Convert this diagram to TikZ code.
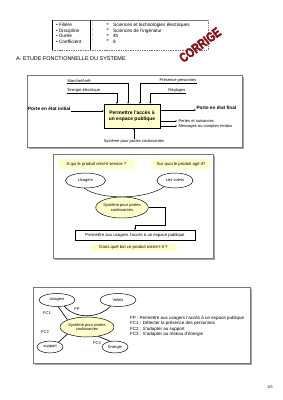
\documentclass[tikz,border=0pt]{standalone}
\usepackage{fontspec}
\setmainfont{Liberation Sans}
\newfontfamily\symbolfont{DejaVu Sans}
\newfontfamily\stampfont[FakeBold=3]{Liberation Sans}
\usetikzlibrary{shapes.geometric, calc}
\definecolor{paleyellow}{RGB}{255,255,204}
\definecolor{stampred}{RGB}{135,18,24}
\definecolor{framegray}{RGB}{120,120,120}
\tikzstyle{boite} = [rectangle, minimum width=41.6mm, minimum height=17.8mm, text centered, draw=black, line width=0.8pt, fill=paleyellow, font=\fontsize{10.5}{12.5}\selectfont\bfseries]
\tikzstyle{oval} = [ellipse, draw=black, line width=1pt, inner sep=0pt, font=\fontsize{8.5}{10}\selectfont]
\tikzstyle{ovalsys} = [oval, fill=paleyellow]
\tikzstyle{question} = [rectangle, fill=paleyellow, inner sep=0pt, minimum height=7.4mm, font=\fontsize{9}{10}\selectfont]
\tikzstyle{tiny} = [inner sep=1pt, font=\fontsize{8.5}{10}\selectfont]
\tikzstyle{flux} = [inner sep=1pt, font=\fontsize{10}{12}\selectfont\bfseries]
\tikzstyle{entete} = [inner sep=0pt, align=left, font=\fontsize{10}{11.6}\selectfont]
\tikzstyle{stamp} = [rotate=37, xscale=0.78, inner sep=0pt, text=stampred, font=\fontsize{28}{28}\stampfont\bfseries]
\tikzstyle{arrow} = [line width=0.6pt,->,>=stealth]
\tikzstyle{line} = [line width=0.6pt,-]
\tikzstyle{liaison} = [line width=1.3pt,-]
\tikzstyle{frame} = [draw=framegray, fill=white, line width=0.6pt]
\tikzstyle{shadow} = [fill=black!35]

\begin{document}
\begin{tikzpicture}[x=0.742mm, y=-0.742mm, align=center]
\useasboundingbox (0,0) rectangle (283,400);
\fill [white] (0,0) rectangle (283,400);

% Header
\draw [framegray] (52,20) -- (208,20);
\draw [line] (52,20) -- (52,50);
\draw [line] (90,20) -- (90,50);
\draw [framegray, densely dashed, line width=1.2pt] (52,50) -- (208,50) -- (208,20);

\node (rubriques) [entete, anchor=north west] at (56,23) {• Filière\\• Discipline\\• Durée\\• Coefficient};
\node (deuxpoints) [entete, anchor=north west] at (92,23) {:\\:\\:\\:};
\node (fleches) [entete, anchor=north west, font=\fontsize{7}{11.6}\symbolfont] at (106,23.5) {➔\\➔\\➔\\➔};
\node (valeurs) [entete, anchor=north west] at (113,23) {Sciences et technologies électriques\\Sciences de l'ingénieur\\4h\\8};

\node (corrige) [stamp] at (200,45) {CORRIGE};

\node (titre) [anchor=west, inner sep=0pt, font=\fontsize{11.5}{13}\selectfont] at (16,58.5) {A- ETUDE FONCTIONNELLE DU SYSTEME};

% SADT
\fill [shadow] (28.5,76.5) rectangle (243.5,148.5);
\draw [frame] (27,75) rectangle (242,147);

\node (fonction) [boite] at (132,116) {Permettre l'accès à\\un espace publique};

\node (marche) [tiny, anchor=south west] at (67,83) {Marche/Arrêt};
\node (energie) [tiny, anchor=south west] at (67,93) {Energie électrique};
\node (presence) [tiny, anchor=south east] at (197,83) {Présence personnes};
\node (reglages) [tiny, anchor=south east] at (186,93) {Réglages};
\node (initial) [flux, anchor=south west] at (27.5,111) {Porte en état initial};
\node (final) [flux, anchor=south west] at (196,110) {Porte en état final};
\node (pertes) [tiny, anchor=west] at (178,121) {Pertes et nuisances};
\node (messages) [tiny, anchor=west] at (178,126) {Messages ou comptes rendus};
\node (moyen) [tiny] at (134,141.5) {Système pour portes coulissantes};

% Arrows
\draw [arrow] (marche.south west) -| ($(fonction.north west)!0.43!(fonction.north east)$);
\draw [arrow] (energie.south west) -| ($(fonction.north west)!0.23!(fonction.north east)$);
\draw [arrow] (presence.south east) -| ($(fonction.north west)!0.64!(fonction.north east)$);
\draw [arrow] (reglages.south east) -| ($(fonction.north west)!0.82!(fonction.north east)$);
\draw [arrow] (initial.south east) -- (initial.south east -| fonction.west);
\draw [arrow, line width=1.2pt] (fonction.east |- final.south west) -- (final.south west);
\draw [arrow, shorten >=2pt] (fonction.east |- pertes.west) -- (pertes.west);
\draw [arrow, shorten >=2pt] (fonction.east |- messages.west) -- (messages.west);
\draw [arrow] (moyen.north) -- (moyen.north |- fonction.south);

% Bete a cornes
\fill [shadow] (55,156) rectangle (215,260);
\draw [frame] (53,154) rectangle (213,258);

\node (cible) [question, minimum width=57.1mm] at (96.5,164) {A qui le produit rend-il service ?};
\node (matiere) [question, minimum width=43mm] at (181,164) {Sur quoi le produit agit-il?};
\node (usagers) [oval, minimum width=29.7mm, minimum height=11.1mm] at (85.5,180.5) {Usagers};
\node (volets) [oval, minimum width=26.7mm, minimum height=11.1mm] at (175,180.5) {Les volets};
\draw [line width=1pt] (usagers.-100) .. controls (100,200) and (145,200) .. (volets.-150);
\node (systeme) [ovalsys, minimum width=29.7mm, minimum height=15.6mm] at (122,207.5) {Système pour portes\\coulissantes};
\coordinate (coude) at (165,225);
\node (mission) [rectangle, draw, line width=0.8pt, minimum width=89mm, minimum height=7.4mm, font=\fontsize{9}{10}\selectfont] at (135,235) {Permettre aux usagers l'accès à un espace publique};
\draw [arrow, line width=0.8pt] (systeme.east) -| (coude) -| (mission.north);
\node (but) [question, minimum width=64.6mm, minimum height=5.2mm] at (133.5,247.5) {Dans quel but ce produit existe-t-il ?};

% Pieuvre
\fill [shadow] (35,289) rectangle (252,365);
\draw [frame] (33,287) rectangle (250,363);

\node (usagersb) [oval, minimum width=26.7mm, minimum height=9.6mm] at (57,300) {Usagers};
\node (voletsb) [oval, minimum width=26.7mm, minimum height=9.6mm] at (118,300) {Volets};
\node (supportb) [oval, minimum width=19.3mm, minimum height=8.9mm] at (50,347) {support};
\node (energieb) [oval, minimum width=19.3mm, minimum height=8.9mm] at (115,347) {Energie};
\draw [liaison] (usagersb.-40) .. controls (75,319) and (98,319) .. (voletsb.-140);
\node (systemeb) [ovalsys, minimum width=40mm, minimum height=14.8mm] at (87,327) {Système pour portes\\coulissantes};
\draw [liaison] (usagersb.-80) -- (systemeb.160);
\draw [liaison] (supportb.30) -- (systemeb.-160);
\draw [liaison] (systemeb.-40) -- (energieb.130);

\node (fp) [tiny] at (77,309) {FP};
\node (fc1) [tiny] at (47,313) {FC1};
\node (fc2) [tiny] at (45,332) {FC2};
\node (fc3) [tiny] at (97,343) {FC3};

\node (legende) [entete, anchor=north west, font=\fontsize{9.5}{11.2}\selectfont] at (130,316) {FP : Permettre aux usagers l'accès à un espace publique\\FC1 :  Détecter la présence des personnes\\FC2 :  S'adapter au support\\FC3 :  S'adapter au réseau d'énergie};

\node (page) [font=\fontsize{8}{9}\selectfont] at (270,387) {1/5};

\end{tikzpicture}
\end{document}
